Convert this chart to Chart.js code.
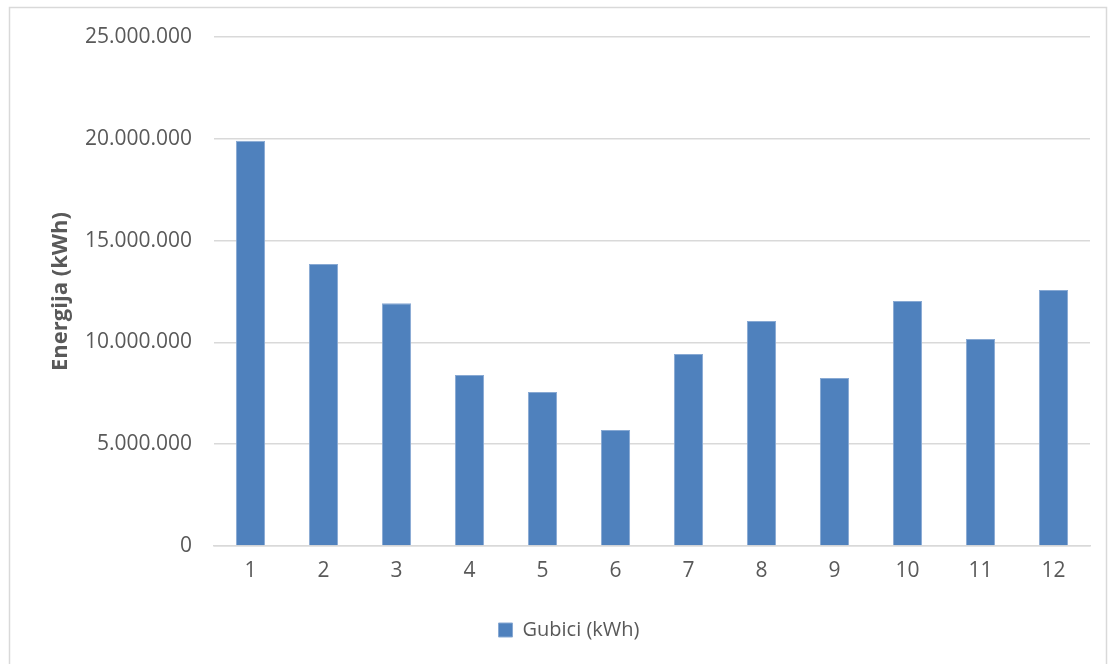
<!DOCTYPE html>
<html>
<head>
<meta charset="utf-8">
<script src="https://cdn.jsdelivr.net/npm/chart.js@4/dist/chart.umd.min.js"></script>
<style>
  html, body { margin: 0; padding: 0; background: #fff; }
  #wrap { position: relative; width: 1113px; height: 664px; }
</style>
</head>
<body>
<div id="wrap"><canvas id="chart" width="1113" height="664"></canvas></div>
<script>
// Monthly losses
const months = ['1', '2', '3', '4', '5', '6', '7', '8', '9', '10', '11', '12'];
const losses = [19900000, 13850000, 11920000, 8400000, 7560000, 5700000, 9430000, 11050000, 8250000, 12030000, 10170000, 12570000];
const seriesName = 'Gubici (kWh)';
const axisTitle = 'Energija (kWh)';

const textColor = '#595959';
const gridColor = '#d9d9d9';
const barColor = '#4f81bd';

// thousands separated with dots
function fmt(v) {
  return String(v).replace(/\B(?=(\d{3})+(?!\d))/g, '.');
}

// white background and thin frame around the chart
const framePlugin = {
  id: 'frame',
  beforeDraw(chart) {
    const ctx = chart.ctx;
    ctx.save();
    ctx.fillStyle = '#fff';
    ctx.fillRect(0, 0, chart.width, chart.height);
    ctx.strokeStyle = gridColor;
    ctx.lineWidth = 1.5;
    ctx.strokeRect(9.5, 7.5, 1097, 700);
    ctx.restore();
  }
};

new Chart(document.getElementById('chart'), {
  type: 'bar',
  data: {
    labels: months,
    datasets: [{
      label: seriesName,
      data: losses,
      backgroundColor: barColor,
      borderColor: '#88a9d3',
      borderWidth: 1,
      categoryPercentage: 1,
      barPercentage: 0.4
    }]
  },
  options: {
    responsive: false,
    animation: false,
    layout: { padding: { top: 37, left: 48, right: 23, bottom: 14 } },
    scales: {
      x: {
        grid: { display: false, drawTicks: false },
        border: { display: true, color: gridColor, width: 1.5 },
        ticks: { color: textColor, font: { family: 'Open Sans', size: 21 }, padding: 12 },
        afterFit(scale) { scale.height = 64; }
      },
      y: {
        min: 0,
        max: 25000000,
        grid: { color: gridColor, lineWidth: 1.5, drawTicks: false },
        border: { display: false },
        ticks: {
          stepSize: 5000000,
          color: textColor,
          font: { family: 'Open Sans', size: 21 },
          padding: 22,
          callback: (v) => fmt(v)
        },
        title: {
          display: true,
          text: axisTitle,
          color: textColor,
          font: { family: 'Open Sans', size: 22, weight: 'bold' },
          padding: 0
        },
        afterFit(scale) { scale.width = 166; }
      }
    },
    plugins: {
      legend: {
        position: 'bottom',
        labels: {
          color: textColor,
          font: { family: 'Open Sans', size: 20 },
          boxWidth: 14,
          boxHeight: 14,
          padding: 10
        }
      },
      tooltip: { enabled: false }
    }
  },
  plugins: [framePlugin]
});
</script>
</body>
</html>
